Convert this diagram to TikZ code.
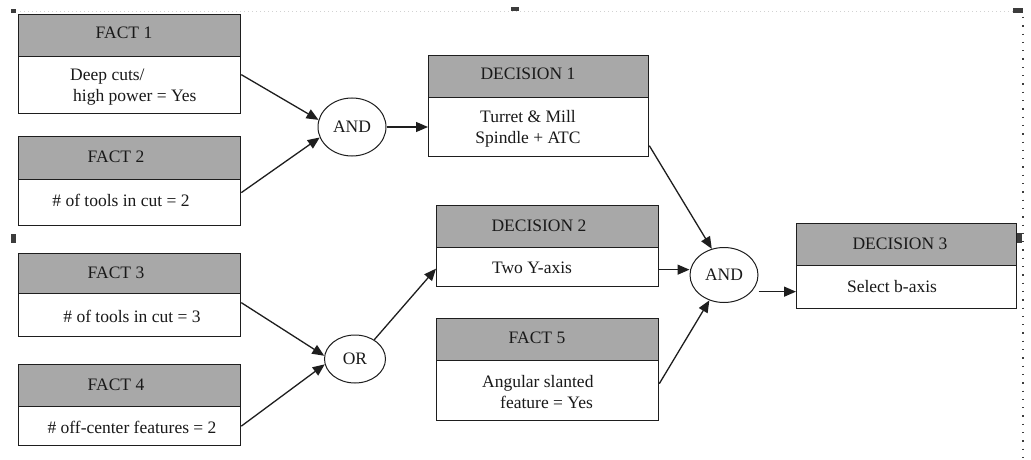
\documentclass[tikz,border=0pt]{standalone}
\usepackage{fontspec}
\setmainfont{Liberation Serif}
\usetikzlibrary{arrows.meta,shapes.geometric,calc}
\definecolor{hdrgray}{RGB}{168,168,168}
\definecolor{linegray}{RGB}{30,30,30}
\definecolor{markgray}{RGB}{60,60,60}
\tikzset{
  boxpart/.style={draw=linegray, line width=1.3pt, rectangle, inner sep=0pt, anchor=north west, minimum width=#1},
  hdrbox/.style={boxpart=#1, fill=hdrgray},
  txt/.style={inner sep=0pt, font=\fontsize{17.5}{22}\selectfont, text=black!90},
  gate/.style={draw=linegray, line width=1pt, ellipse, inner sep=0pt, font=\fontsize{17.5}{22}\selectfont, text=black!90},
  conn/.style={draw=linegray, line width=1.3pt, -{Triangle[length=12pt,width=10pt]}},
  marker/.style={fill=markgray, draw=none},
}
\begin{document}
\begin{tikzpicture}[x=1pt,y=-1pt]
\useasboundingbox (0,0) rectangle (1031,460);
\fill[white] (0,0) rectangle (1031,460);

% selection frame artefacts
\draw[gray!35, line width=0.8pt, dash pattern=on 1pt off 3pt] (20,11) -- (1013,11);
\draw[markgray, line width=1.3pt, dash pattern=on 1.3pt off 7pt] (1023,17) -- (1023,460);
\fill[marker] (11,9) rectangle (16,13);
\fill[marker] (511,7) rectangle (519,11);
\fill[marker] (1013,8) rectangle (1023,13);
\fill[marker] (11,234) rectangle (16,243);
\fill[marker] (1013,233) rectangle (1022,243);

% FACT 1
\node[hdrbox=222pt, minimum height=42pt] (f1h) at (18,14) {};
\node[boxpart=222pt, minimum height=57pt] (f1b) at (18,56) {};
\node[txt] (tf1h) at (124,33) {FACT 1};
\node[txt, anchor=west, align=left] (tf1b) at (70,87) {Deep cuts/\\[-1pt]\hspace*{3pt}high power = Yes};

% FACT 2
\node[hdrbox=222pt, minimum height=43pt] (f2h) at (18,136) {};
\node[boxpart=222pt, minimum height=46pt] (f2b) at (18,179) {};
\node[txt] (tf2h) at (116,157) {FACT 2};
\node[txt] (tf2b) at (121,200) {\# of tools in cut = 2};

% FACT 3
\node[hdrbox=222pt, minimum height=40pt] (f3h) at (18,253) {};
\node[boxpart=222pt, minimum height=43pt] (f3b) at (18,293) {};
\node[txt] (tf3h) at (116,273) {FACT 3};
\node[txt] (tf3b) at (132,316) {\# of tools in cut = 3};

% FACT 4
\node[hdrbox=222pt, minimum height=42pt] (f4h) at (18,364) {};
\node[boxpart=222pt, minimum height=39pt] (f4b) at (18,406) {};
\node[txt] (tf4h) at (116,385) {FACT 4};
\node[txt] (tf4b) at (132,427) {\# off-center features = 2};

% DECISION 1
\node[hdrbox=220pt, minimum height=42pt] (d1h) at (428,55) {};
\node[boxpart=220pt, minimum height=59pt] (d1b) at (428,97) {};
\node[txt] (td1h) at (528,74) {DECISION 1};
\node[txt, align=center] (td1b) at (528,129) {Turret \& Mill\\[-1pt]Spindle + ATC};

% DECISION 2
\node[hdrbox=222pt, minimum height=42pt] (d2h) at (436,205) {};
\node[boxpart=222pt, minimum height=39pt] (d2b) at (436,247) {};
\node[txt] (td2h) at (539,226) {DECISION 2};
\node[txt] (td2b) at (532,268) {Two Y-axis};

% FACT 5
\node[hdrbox=222pt, minimum height=42pt] (f5h) at (436,318) {};
\node[boxpart=222pt, minimum height=60pt] (f5b) at (436,360) {};
\node[txt] (tf5h) at (537,338) {FACT 5};
\node[txt, anchor=west, align=left] (tf5b) at (482,392) {Angular slanted\\[-1pt]\hspace*{18pt}feature = Yes};

% DECISION 3
\node[hdrbox=220pt, minimum height=42pt] (d3h) at (796,223) {};
\node[boxpart=220pt, minimum height=43pt] (d3b) at (796,265) {};
\node[txt] (td3h) at (900,244) {DECISION 3};
\node[txt] (td3b) at (892,287) {Select b-axis};

% gates
\node[gate, minimum width=68pt, minimum height=58pt] (and1) at (352,127) {AND};
\node[gate, minimum width=61pt, minimum height=48pt] (or) at (355,359) {OR};
\node[gate, minimum width=68pt, minimum height=55pt] (and2) at (724,275) {AND};

% connectors
\draw[conn] ([yshift=10.5pt]f1b.east) -- (and1.168);
\draw[conn] ([yshift=10pt]f2b.east) -- (and1.198);
\draw[conn] (and1.east) -- (and1.east -| d1b.west);
\draw[conn] ([yshift=12.5pt]f3b.east) -- (or.174);
\draw[conn] (f4b.east) -- (or.190);
\draw[conn] (or.45) -- ([yshift=-1.5pt]d2b.west);
\draw[conn] ([yshift=-18.5pt]d1b.east) -- (and2.115);
\draw[conn] ([yshift=-2.5pt]d2b.east) -- ([yshift=-2.5pt]d2b.east -| and2.west);
\draw[conn] ([yshift=7pt]f5b.east) -- (and2.240);
\coordinate (d3in) at ([yshift=-4.5pt]d3b.west);
\draw[conn] (and2.east |- d3in) -- (d3in);
\end{tikzpicture}
\end{document}
